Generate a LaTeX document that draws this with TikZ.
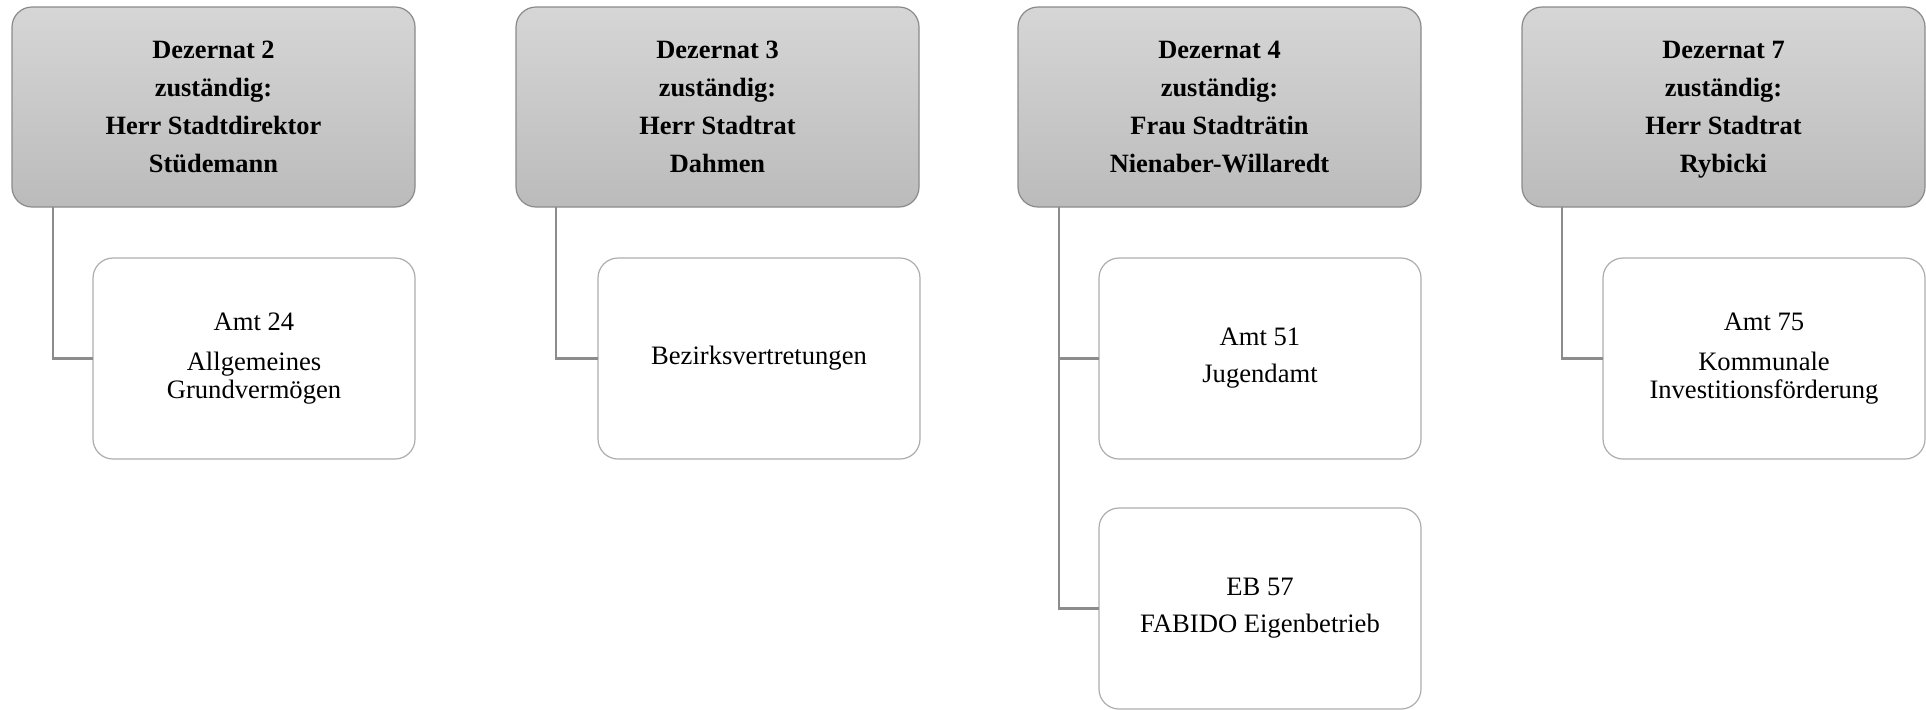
\documentclass[tikz,border=0pt]{standalone}
\usepackage{fontspec}
\setmainfont{Liberation Serif}
\usepackage{tikz}
\definecolor{kopfoben}{HTML}{D6D6D6}
\definecolor{kopfunten}{HTML}{BBBBBB}
\definecolor{kopfrand}{HTML}{8A8A8A}
\definecolor{amtrand}{HTML}{ADADAD}
\definecolor{linie}{HTML}{8C8C8C}

\begin{document}
\begin{tikzpicture}[x=0.5pt,y=-0.5pt,
	dezernat/.style={draw=kopfrand,line width=0.6pt,rounded corners=10pt,top color=kopfoben,bottom color=kopfunten,
		minimum width=201.5pt,minimum height=100pt,align=center,anchor=north west,outer sep=0pt,
		font=\fontsize{13.2}{19}\selectfont\bfseries},
	amt/.style={draw=amtrand,line width=0.6pt,rounded corners=10pt,fill=white,
		minimum width=161pt,minimum height=100.5pt,align=center,anchor=north west,outer sep=0pt,
		font=\fontsize{13.3}{14}\selectfont},
	verbinder/.style={draw=linie,line width=1.2pt}]
		\useasboundingbox (0,0) rectangle (1926,709);
		\node[dezernat] (d2) at (12,7) {Dezernat 2\\zuständig:\\Herr Stadtdirektor\\Stüdemann};
		\node[dezernat] (d3) at (516,7) {Dezernat 3\\zuständig:\\Herr Stadtrat\\Dahmen};
		\node[dezernat] (d4) at (1018,7) {Dezernat 4\\zuständig:\\Frau Stadträtin\\Nienaber-Willaredt};
		\node[dezernat] (d7) at (1522,7) {Dezernat 7\\zuständig:\\Herr Stadtrat\\\raisebox{0pt}[\height][0pt]{Rybicki}};
		\node[amt] (a24) at (93,258) {Amt 24\\[6pt]Allgemeines\\Grundvermögen};
		\node[amt] (bv) at (598,258) {Bezirksvertretungen};
		\node[amt] (a51) at (1099,258) {Amt 51\\[4.5pt]Jugendamt};
		\node[amt] (eb57) at (1099,508) {EB 57\\[4.5pt]FABIDO Eigenbetrieb};
		\node[amt] (a75) at (1603,258) {Amt 75\\[6pt]Kommunale\\Investitionsförderung};
		\draw[verbinder] ([xshift=20.5pt]d2.south west) |- (a24.west);
		\draw[verbinder] ([xshift=20pt]d3.south west) |- (bv.west);
		\draw[verbinder] ([xshift=20.5pt]d4.south west) |- (a51.west);
		\draw[verbinder] ([xshift=20.5pt]d4.south west) |- (eb57.west);
		\draw[verbinder] ([xshift=20pt]d7.south west) |- (a75.west);
\end{tikzpicture}
\end{document}
